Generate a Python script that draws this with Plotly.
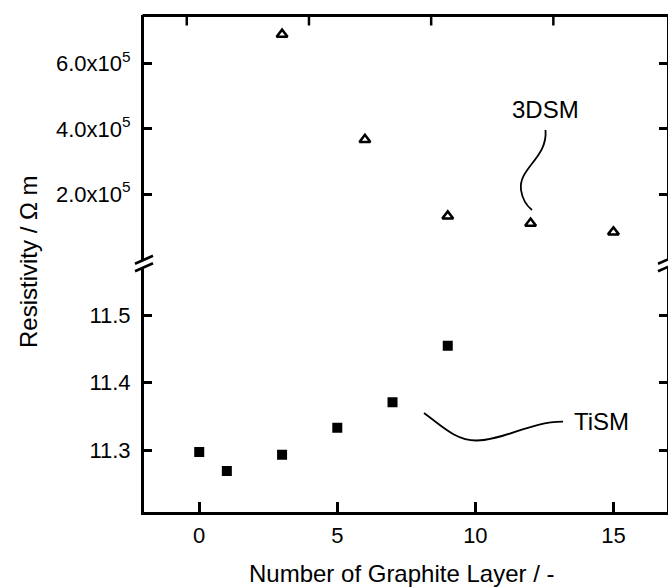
import plotly.graph_objects as go

# ---- data -------------------------------------------------------------
# TiSM: resistivity vs. number of graphite layers (lower panel)
tism_layers = [0, 1, 3, 5, 7, 9]
tism_resistivity = [11.297, 11.269, 11.293, 11.333, 11.371, 11.455]

# 3DSM: resistivity vs. number of graphite layers (upper panel)
dsm_layers = [3, 6, 9, 12, 15]
dsm_resistivity = [6.90e5, 3.67e5, 1.32e5, 1.10e5, 0.834e5]

x_ticks = [0, 5, 10, 15]
lower_ticks = [11.3, 11.4, 11.5]
lower_ticktext = ["11.3", "11.4", "11.5"]
upper_ticks = [2e5, 4e5, 6e5]
upper_ticktext = ["2.0x10<sup>5</sup>", "4.0x10<sup>5</sup>", "6.0x10<sup>5</sup>"]

# ---- geometry ---------------------------------------------------------
W, H = 668, 588
ML, MR, MT, MB = 144, 1, 15, 76
PW, PH = W - ML - MR, H - MT - MB
SPLIT = 0.5  # paper fraction where the y axis is broken

X_RANGE = [-2, 16.94]
# the top frame carries its own tick scale (0, 5, 10, 15 on this range)
TOP_RANGE = [-1.75, 19.65]

FONT = "Arial, Liberation Sans, Helvetica, sans-serif"
LINE_W = 3
TICK_W = 2.5


def px(x):
    """pixel x -> paper x"""
    return (x - ML) / PW


def py(y):
    """pixel y -> paper y"""
    return (H - MB - y) / PH


def top_to_paper(v):
    """value on the top frame scale -> paper x"""
    return (v - TOP_RANGE[0]) / (TOP_RANGE[1] - TOP_RANGE[0])


def path(points, closed=False):
    s = "M " + " L ".join(f"{px(x):.5f},{py(y):.5f}" for x, y in points)
    return s + (" Z" if closed else "")


def cpath(start, segments):
    """cubic bezier path given in pixel coordinates"""
    s = f"M {px(start[0]):.5f},{py(start[1]):.5f}"
    for (c1, c2, e) in segments:
        s += " C " + " ".join(f"{px(a):.5f},{py(b):.5f}" for a, b in (c1, c2, e))
    return s


def break_marks(xc, yc, half=9, rise=4, gap=7.5):
    g = gap / 2
    shapes = [dict(type="path", xref="paper", yref="paper",
                   path=path([(xc - half, yc - g + rise), (xc + half, yc - g - rise),
                              (xc + half, yc + g - rise), (xc - half, yc + g + rise)], True),
                   fillcolor="white", line=dict(width=0), layer="above")]
    for off in (-g, g):
        shapes.append(dict(type="line", xref="paper", yref="paper",
                           x0=px(xc - half), y0=py(yc + off + rise),
                           x1=px(xc + half), y1=py(yc + off - rise),
                           line=dict(color="black", width=2.5), layer="above"))
    return shapes


fig = go.Figure()

fig.add_trace(go.Scatter(
    x=tism_layers, y=tism_resistivity, mode="markers", name="TiSM",
    xaxis="x", yaxis="y",
    marker=dict(symbol="square", size=10, color="black"),
))
fig.add_trace(go.Scatter(
    x=dsm_layers, y=dsm_resistivity, mode="markers", name="3DSM",
    xaxis="x", yaxis="y2",
    marker=dict(symbol="triangle-up-open", size=9.5, color="black",
                line=dict(width=2.5, color="black")),
))

axis_common = dict(showline=True, linecolor="black", linewidth=LINE_W,
                   ticks="inside", tickcolor="black", tickwidth=TICK_W,
                   showgrid=False, zeroline=False, automargin=False,
                   tickfont=dict(family=FONT, size=22, color="black"))

shapes = []

# top frame bar with its inward ticks
top_y = MT + 0.5
shapes.append(dict(type="rect", xref="paper", yref="paper",
                   x0=px(ML - LINE_W / 2), x1=px(ML + PW + LINE_W / 2),
                   y0=py(top_y - LINE_W / 2), y1=py(top_y + LINE_W / 2),
                   fillcolor="black", line=dict(width=0), layer="above"))
for v in x_ticks:
    xp = top_to_paper(v)
    shapes.append(dict(type="rect", xref="paper", yref="paper",
                       x0=xp - (TICK_W / 2) / PW, x1=xp + (TICK_W / 2) / PW,
                       y0=py(top_y), y1=py(top_y + 10),
                       fillcolor="black", line=dict(width=0), layer="above"))

break_y = (H - MB) - SPLIT * PH
shapes += break_marks(ML, break_y)
shapes += break_marks(ML + PW, break_y)

# leader line for 3DSM label
shapes.append(dict(type="path", xref="paper", yref="paper",
                   path=cpath((545.5, 130), [((548, 158), (518, 168), (521, 190)),
                                              ((522.5, 200), (527, 206), (532, 210))]),
                   line=dict(color="black", width=1.8)))
# leader line for TiSM label
shapes.append(dict(type="path", xref="paper", yref="paper",
                   path=cpath((424, 413), [((442, 426), (456, 441), (477, 440.5)),
                                            ((505, 440), (530, 421.5), (563, 421.7))]),
                   line=dict(color="black", width=1.8)))

annotations = [
    dict(text="3DSM", xref="paper", yref="paper", x=px(545), y=py(109),
         xanchor="center", yanchor="middle", showarrow=False,
         font=dict(family=FONT, size=24, color="black")),
    dict(text="TiSM", xref="paper", yref="paper", x=px(572), y=py(421),
         xanchor="left", yanchor="middle", showarrow=False,
         font=dict(family=FONT, size=24, color="black")),
    dict(text="Resistivity / \u03a9 m", xref="paper", yref="paper",
         x=px(28), y=py(262), xanchor="center", yanchor="middle",
         textangle=-90, showarrow=False,
         font=dict(family=FONT, size=24, color="black")),
    dict(text="Number of Graphite Layer / -", xref="paper", yref="paper",
         x=px(401), y=py(573), xanchor="center", yanchor="middle",
         showarrow=False, font=dict(family=FONT, size=24, color="black")),
]

fig.update_layout(
    width=W, height=H,
    margin=dict(l=ML, r=MR, t=MT, b=MB, pad=0, autoexpand=False),
    paper_bgcolor="white", plot_bgcolor="white",
    showlegend=False,
    font=dict(family=FONT, color="black"),
    xaxis=dict(domain=[0, 1], anchor="y", range=X_RANGE,
               tickvals=x_ticks, ticklen=10, ticklabelstandoff=2,
               **axis_common),
    yaxis=dict(domain=[0, SPLIT], anchor="x", range=[11.208, 11.577],
               tickvals=lower_ticks, ticktext=lower_ticktext, ticklen=8,
               mirror="ticks", ticklabelstandoff=6, **axis_common),
    yaxis2=dict(domain=[SPLIT, 1], anchor="x", range=[-0.133e5, 7.495e5],
                tickvals=upper_ticks, ticktext=upper_ticktext, ticklen=8,
                mirror="ticks", ticklabelstandoff=6, **axis_common),
    shapes=shapes,
    annotations=annotations,
)

fig.write_html("out.html")
